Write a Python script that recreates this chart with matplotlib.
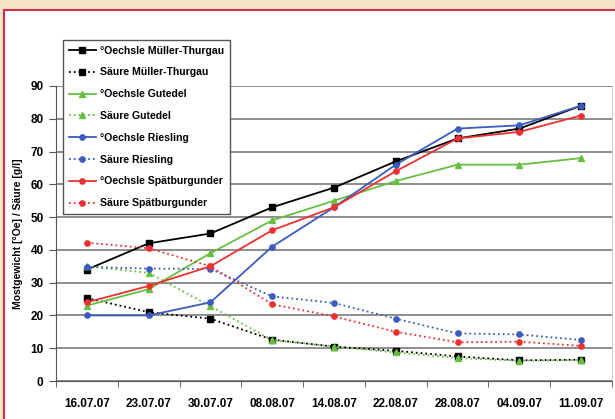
#!/usr/bin/env python3
"""
Mostgewicht und Säure, Reifeverlauf 2007
"""
import matplotlib
matplotlib.use("Agg")
import matplotlib.pyplot as plt
import numpy as np
from matplotlib.patches import Rectangle

plt.rcParams["font.family"] = ["Liberation Sans", "DejaVu Sans"]
plt.rcParams["font.weight"] = "bold"

# %% data
dates = ["16.07.07", "23.07.07", "30.07.07", "08.08.07", "14.08.07",
         "22.08.07", "28.08.07", "04.09.07", "11.09.07"]

oechsle_mt = [34, 42, 45, 53, 59, 67, 74, 77, 84]
saeure_mt = [25.3, 21, 19, 12.6, 10.5, 9.2, 7.5, 6.3, 6.5]
oechsle_gutedel = [23, 28, 39, 49, 55, 61, 66, 66, 68]
saeure_gutedel = [35, 33, 22.8, 12.5, 10.5, 8.7, 7.0, 6.2, 6.4]
oechsle_riesling = [20, 20, 24, 41, 53, 66, 77, 78, 84]
saeure_riesling = [34.8, 34.3, 34.2, 25.8, 23.8, 19, 14.5, 14.2, 12.5]
oechsle_spaet = [24, 29, 35, 46, 53, 64, 74, 76, 81]
saeure_spaet = [42.2, 40.5, 35, 23.4, 19.7, 15, 11.8, 12, 10.7]

series = [
    ("°Oechsle Müller-Thurgau", oechsle_mt, "black", "s", "-"),
    ("Säure Müller-Thurgau", saeure_mt, "black", "s", ":"),
    ("°Oechsle Gutedel", oechsle_gutedel, "#66c040", "^", "-"),
    ("Säure Gutedel", saeure_gutedel, "#66c040", "^", ":"),
    ("°Oechsle Riesling", oechsle_riesling, "#3a5cc0", "o", "-"),
    ("Säure Riesling", saeure_riesling, "#3a5cc0", "o", ":"),
    ("°Oechsle Spätburgunder", oechsle_spaet, "#ee3030", "o", "-"),
    ("Säure Spätburgunder", saeure_spaet, "#ee3030", "o", ":"),
]

# %% figure
fig = plt.figure(figsize=(6.15, 4.19), dpi=100)
fig.patch.set_facecolor("#f3e5c5")
# white card with red border (behind the axes)
card = Rectangle((3.5 / 615, -0.05), 1.2, 1 - 10 / 419 + 0.05,
                 transform=fig.transFigure, facecolor="white",
                 edgecolor="#d03050", linewidth=1.5, zorder=-10)
fig.add_artist(card)

ax = fig.add_axes([56 / 615, 1 - 381 / 419, (612 - 56) / 615, (381 - 86) / 419])
ax.set_facecolor("none")
x = np.arange(len(dates))

for label, vals, color, marker, ls in series:
    ax.plot(x, vals, color=color, marker=marker, linestyle=ls,
            markersize=4.2 if marker != "o" else 3.8, linewidth=1.3,
            label=label, zorder=3)

ax.set_xlim(-0.5, len(dates) - 0.5)
ax.set_ylim(0, 90)
ax.set_yticks(np.arange(0, 91, 10))
ax.yaxis.grid(True, color="#7a7a7a", linewidth=1.2)
ax.set_axisbelow(True)

ax.set_xticks(x)
ax.set_xticklabels(dates, fontsize=8.5, fontweight="bold")
ax.tick_params(axis="x", which="major", length=0, pad=12)
ax.set_xticks(np.arange(-0.5, len(dates), 1), minor=True)
ax.tick_params(axis="x", which="minor", length=4, color="#555555")
ax.tick_params(axis="y", length=5, color="#555555", labelsize=8.5, pad=4)
for lab in ax.get_yticklabels():
    lab.set_fontweight("bold")

ax.spines["top"].set_visible(False)
ax.spines["right"].set_color("#cccccc")
ax.spines["left"].set_color("#555555")
ax.spines["bottom"].set_color("#555555")

ax.set_ylabel("Mostgewicht [°Oe] / Säure [g/l]", fontsize=7.5,
              fontweight="bold", labelpad=5)

leg = fig.legend(loc="upper left", bbox_to_anchor=(58 / 615, 1 - 35 / 419),
                 fontsize=7.6, frameon=True, fancybox=False,
                 labelspacing=1.12, handlelength=2.6, borderpad=0.5,
                 handletextpad=0.4, framealpha=1)
leg.get_frame().set_edgecolor("#555555")
leg.get_frame().set_linewidth(1.0)
for t in leg.get_texts():
    t.set_fontweight("bold")

fig.savefig("out.png", dpi=100, facecolor=fig.get_facecolor())
